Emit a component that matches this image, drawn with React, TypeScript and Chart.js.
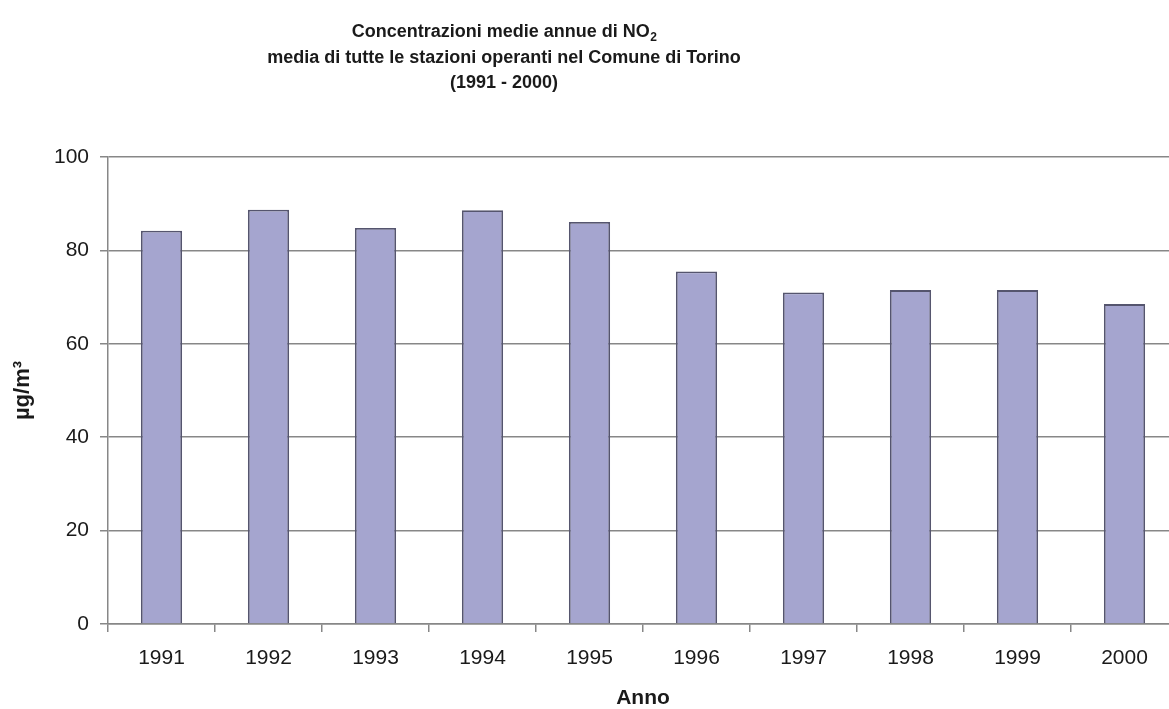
import React, { useEffect, useRef } from "react";
import { Chart, registerables } from "chart.js";

Chart.register(...registerables);

// Annual mean NO2 concentration, Turin (µg/m³)
const years = ["1991", "1992", "1993", "1994", "1995", "1996", "1997", "1998", "1999", "2000"];
const no2Means = [84.2, 88.7, 84.8, 88.6, 86.1, 75.5, 71.0, 71.5, 71.5, 68.5];
const yTickValues = [0, 20, 40, 60, 80, 100];

const titleMain = "Concentrazioni medie annue di NO";
const titleSub = "2";
const titleLine2 = "media di tutte le stazioni operanti nel Comune di Torino";
const titleLine3 = "(1991 - 2000)";
const xTitle = "Anno";
const yTitle = "µg/m³";

const FONT = "'Liberation Sans', Arial, sans-serif";
const TEXT = "#1a1a1a";
const GRID = "#878787";

const CANVAS_W = 1180;
const CANVAS_H = 711;

// Three-line heading drawn above the plot, with a subscript in NO2
const headingPlugin = {
  id: "heading",
  afterDraw(chart: Chart) {
    const ctx = chart.ctx;
    const cx = 504;
    ctx.save();
    ctx.fillStyle = TEXT;
    ctx.textBaseline = "middle";
    ctx.textAlign = "left";

    ctx.font = `bold 18px ${FONT}`;
    const wMain = ctx.measureText(titleMain).width;
    ctx.font = `bold 12px ${FONT}`;
    const wSub = ctx.measureText(titleSub).width;
    const x0 = cx - (wMain + wSub) / 2;
    ctx.font = `bold 18px ${FONT}`;
    ctx.fillText(titleMain, x0, 32);
    ctx.font = `bold 12px ${FONT}`;
    ctx.fillText(titleSub, x0 + wMain + 0.5, 38);

    ctx.font = `bold 18px ${FONT}`;
    ctx.textAlign = "center";
    ctx.fillText(titleLine2, cx, 58);
    ctx.fillText(titleLine3, cx, 83);
    ctx.restore();
  },
};

export default function App() {
  const canvasRef = useRef<HTMLCanvasElement | null>(null);

  useEffect(() => {
    const canvas = canvasRef.current;
    if (!canvas) return;
    const chart = new Chart(canvas, {
      type: "bar",
      data: {
        labels: years,
        datasets: [
          {
            data: no2Means,
            backgroundColor: "#a5a5cf",
            borderColor: "#55556e",
            borderWidth: 1.8,
            categoryPercentage: 1,
            barPercentage: 0.385,
          },
        ],
      },
      options: {
        responsive: false,
        animation: false,
        devicePixelRatio: 1,
        layout: { padding: { top: 157, right: 2, left: 0, bottom: 0 } },
        plugins: {
          legend: { display: false },
          tooltip: { enabled: false },
          title: { display: false },
        },
        scales: {
          x: {
            offset: true,
            afterFit(scale: any) {
              scale.height = 87;
            },
            grid: {
              display: true,
              offset: true,
              drawOnChartArea: false,
              drawTicks: true,
              tickLength: 8,
              color: GRID,
              lineWidth: 1.5,
            },
            border: { display: true, color: GRID, width: 1.5 },
            ticks: {
              color: TEXT,
              font: { family: FONT, size: 21 },
              padding: 14,
              maxRotation: 0,
            },
            title: {
              display: true,
              text: xTitle,
              color: TEXT,
              font: { family: FONT, size: 21, weight: "bold" },
              padding: { top: 4, bottom: 0 },
            },
          },
          y: {
            min: 0,
            max: 100,
            afterFit(scale: any) {
              scale.width = 108;
            },
            afterBuildTicks(scale: any) {
              scale.ticks = yTickValues.map((v) => ({ value: v }));
            },
            grid: {
              color: GRID,
              lineWidth: 1.5,
              drawTicks: true,
              tickLength: 8,
            },
            border: { display: true, color: GRID, width: 1.5 },
            ticks: {
              color: TEXT,
              font: { family: FONT, size: 21 },
              padding: 11,
            },
            title: {
              display: true,
              text: yTitle,
              color: TEXT,
              font: { family: FONT, size: 22, weight: "bold" },
              padding: { top: 10, bottom: 0 },
            },
          },
        },
      },
      plugins: [headingPlugin],
    });
    return () => chart.destroy();
  }, []);

  return (
    <div
      style={{
        position: "fixed",
        left: 0,
        top: 0,
        width: 1169,
        height: 709,
        overflow: "hidden",
        background: "#fff",
      }}
    >
      <canvas
        ref={canvasRef}
        width={CANVAS_W}
        height={CANVAS_H}
        style={{ display: "block", width: CANVAS_W, height: CANVAS_H }}
      />
    </div>
  );
}
